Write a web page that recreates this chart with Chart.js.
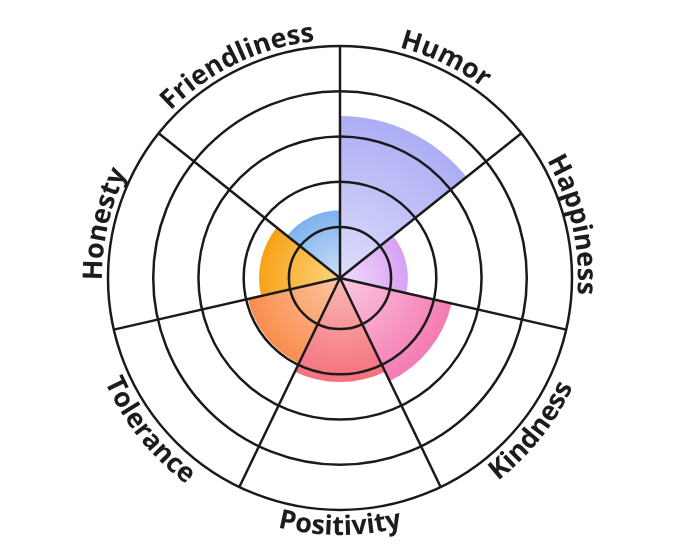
<!DOCTYPE html>
<html>
<head>
<meta charset="utf-8">
<script src="https://cdn.jsdelivr.net/npm/chart.js@4/dist/chart.umd.min.js"></script>
<style>
  html, body { margin: 0; padding: 0; background: #fff; }
  #wrap { width: 680px; height: 557px; }
</style>
</head>
<body>
<div id="wrap"><canvas id="myChart"></canvas></div>
<script>
const categories = ['Humor', 'Happiness', 'Kindness', 'Positivity', 'Tolerance', 'Honesty', 'Friendliness'];
const values = [3.45, 1.37, 2.4, 2.17, 1.96, 1.66, 1.37];
const tickValues = [1, 2, 3, 4, 5];
// light (centre) and strong (edge) colour of each sector
const innerColors = ['#dedefb', '#f4dcfc', '#fcc9e1', '#fbb9b4', '#fdc6a0', '#fdd680', '#cde0f9'];
const outerColors = ['#adadf6', '#d6a1f4', '#f47bb2', '#f4717e', '#fa8d4e', '#f8a218', '#7db1ee'];

const lineColor = '#1a1a1a';

function sectorFill(ctx) {
  const chart = ctx.chart;
  const s = chart.scales.r;
  if (!s || !chart.chartArea) return outerColors[ctx.dataIndex];
  const rad = Math.max(1, s.getDistanceFromCenterForValue(values[ctx.dataIndex]));
  const g = chart.ctx.createRadialGradient(s.xCenter, s.yCenter, 0, s.xCenter, s.yCenter, rad);
  g.addColorStop(0, innerColors[ctx.dataIndex]);
  g.addColorStop(1, outerColors[ctx.dataIndex]);
  return g;
}

const curvedLabels = {
  id: 'curvedLabels',
  afterDraw(chart) {
    const s = chart.scales.r;
    const c = chart.ctx;
    const mid = s.drawingArea + 15.5;
    const cap = 19;
    const half = Math.PI / categories.length;
    c.save();
    c.font = '700 27px "Open Sans"';
    c.fillStyle = '#1c1c1c';
    c.textAlign = 'center';
    c.textBaseline = 'alphabetic';
    categories.forEach((name, i) => {
      const a = s.getIndexAngle(i) - Math.PI / 2 + half;
      const flip = Math.sin(a) > 0.05;
      const rb = flip ? mid + cap / 2 : mid - cap / 2;
      const total = c.measureText(name).width;
      let acc = 0;
      for (const ch of name) {
        const w = c.measureText(ch).width;
        const off = (acc + w / 2 - total / 2) / rb;
        const ang = flip ? a - off : a + off;
        c.save();
        c.translate(s.xCenter + rb * Math.cos(ang), s.yCenter + rb * Math.sin(ang));
        c.rotate(flip ? ang - Math.PI / 2 : ang + Math.PI / 2);
        c.fillText(ch, 0, 0);
        c.restore();
        acc += w;
      }
    });
    c.restore();
  }
};

const data = {
  labels: categories,
  datasets: [{
    data: values,
    backgroundColor: sectorFill,
    borderWidth: 0
  }]
};

const config = {
  type: 'polarArea',
  data: data,
  options: {
    responsive: true,
    maintainAspectRatio: false,
    animation: false,
    layout: { padding: { top: 46, bottom: 47, left: 0, right: 0 } },
    plugins: { legend: { display: false }, tooltip: { enabled: false } },
    scales: {
      r: {
        min: -0.13,
        max: 5,
        startAngle: 0,
        afterBuildTicks(scale) {
          scale.ticks = [scale.min].concat(tickValues).map(v => ({ value: v }));
        },
        ticks: { display: false },
        pointLabels: { display: false },
        grid: {
          z: 1,
          circular: true,
          color: (ctx) => ctx.index === 0 ? 'rgba(0,0,0,0)' : lineColor,
          lineWidth: 2.5
        },
        angleLines: { display: true, color: lineColor, lineWidth: 2.5 }
      }
    }
  },
  plugins: [curvedLabels]
};

const myChart = new Chart(document.getElementById('myChart'), config);
</script>
</body>
</html>
